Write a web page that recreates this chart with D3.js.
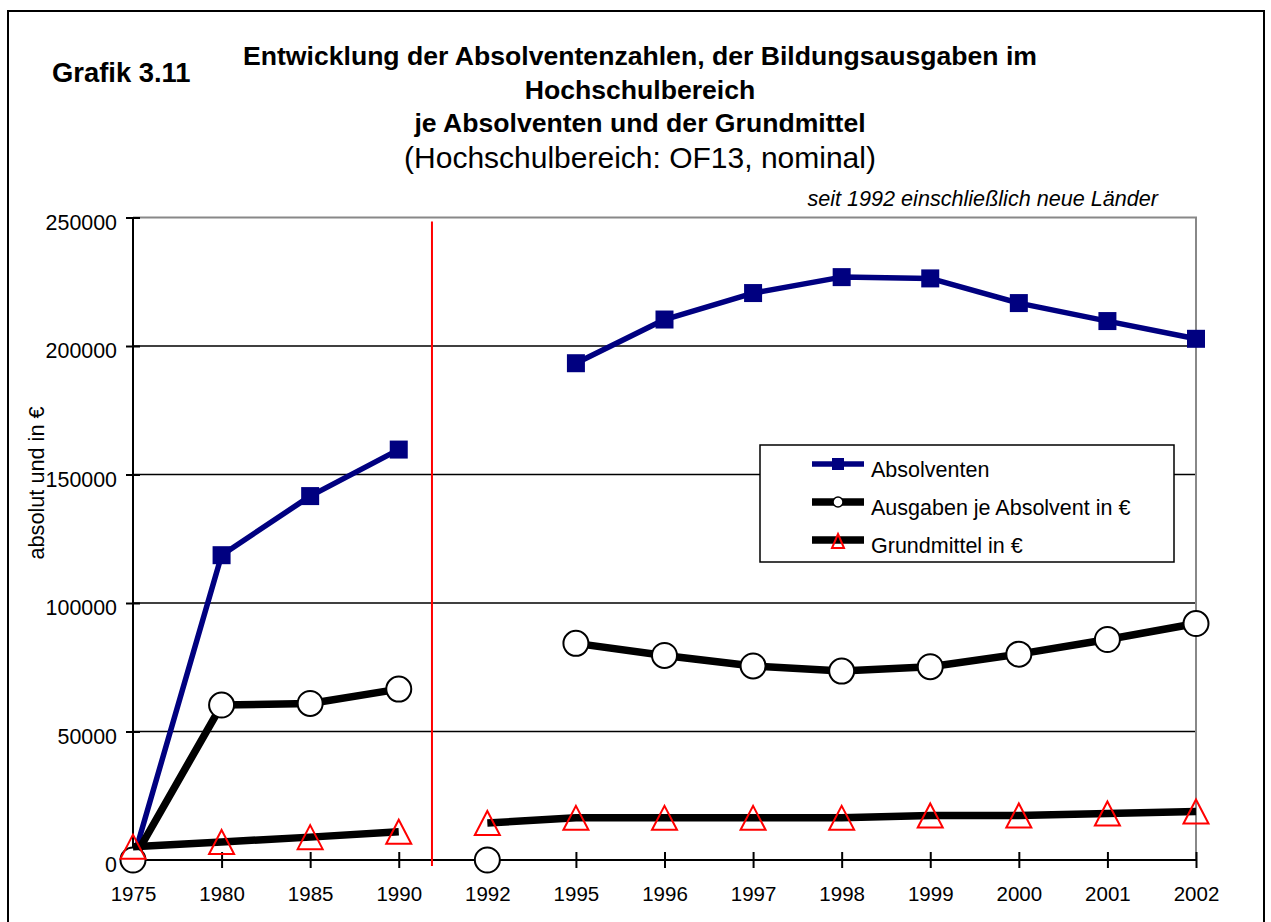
<!DOCTYPE html>
<html>
<head>
<meta charset="utf-8">
<script src="https://cdn.jsdelivr.net/npm/d3@7"></script>
<style>
  body { margin: 0; background: #fff; }
  svg { display: block; font-family: "Liberation Sans", Arial, sans-serif; }
</style>
</head>
<body>
<div id="chart"></div>
<script>
// data
var years = ["1975", "1980", "1985", "1990", "1992", "1995", "1996", "1997", "1998", "1999", "2000", "2001", "2002"];
var absolventen = [0, 118600, 141600, 159700, 0, 193300, 210300, 220600, 226800, 226300, 216700, 209700, 202800];
var ausgaben = [0, 60300, 60900, 66500, 0, 84300, 79600, 75500, 73500, 75200, 80100, 85800, 92000];
var grundmittel = [5200, 7000, 8900, 11000, 14400, 16400, 16400, 16400, 16400, 17300, 17300, 18100, 18900];
var yTicks = [0, 50000, 100000, 150000, 200000, 250000];
// years that get a marker but no connecting line
var absolventenNoLine = ["1992"];
var ausgabenNoLine = ["1992"];
// line is broken between the old and the new territory
var splitYear = "1992";

var W = 1271, H = 922;
var svg = d3.select("#chart").append("svg")
    .attr("width", W)
    .attr("height", H);

// outer frame
svg.append("rect")
    .attr("x", 8).attr("y", 11)
    .attr("width", 1256).attr("height", 930)
    .attr("fill", "none").attr("stroke", "#000").attr("stroke-width", 2);

var x = d3.scalePoint().domain(years).range([133, 1196]);
var y = d3.scaleLinear().domain([0, 250000]).range([860, 217.5]);

// titles
svg.append("text")
    .attr("x", 52).attr("y", 82)
    .attr("font-size", 27.4).attr("font-weight", "bold")
    .text("Grafik 3.11");

var titleLines = [
  {t: "Entwicklung der Absolventenzahlen, der Bildungsausgaben im", y: 65, b: true, s: 26.6},
  {t: "Hochschulbereich", y: 98.5, b: true, s: 26.6},
  {t: "je Absolventen und der Grundmittel", y: 132, b: true, s: 26.6},
  {t: "(Hochschulbereich: OF13, nominal)", y: 168, b: false, s: 30}
];
svg.selectAll("text.title")
    .data(titleLines)
    .enter().append("text")
    .attr("class", "title")
    .attr("x", 640)
    .attr("y", function(d) { return d.y; })
    .attr("text-anchor", "middle")
    .attr("font-size", function(d) { return d.s; })
    .attr("font-weight", function(d) { return d.b ? "bold" : "normal"; })
    .text(function(d) { return d.t; });

svg.append("text")
    .attr("x", 1158).attr("y", 206)
    .attr("text-anchor", "end")
    .attr("font-size", 21.6).attr("font-style", "italic")
    .text("seit 1992 einschließlich neue Länder");

// grid lines
svg.append("g")
    .selectAll("line")
    .data(yTicks.filter(function(d) { return d > 0 && d < 250000; }))
    .enter().append("line")
    .attr("x1", x.range()[0]).attr("x2", x.range()[1])
    .attr("y1", function(d) { return y(d); })
    .attr("y2", function(d) { return y(d); })
    .attr("stroke", "#000").attr("stroke-width", 1.5);

// plot frame top + right (gray)
svg.append("path")
    .attr("d", "M" + x.range()[0] + "," + y(250000) + "H" + x.range()[1] + "V" + y(0))
    .attr("fill", "none").attr("stroke", "#888").attr("stroke-width", 2);

// y axis
var yAxis = d3.axisLeft(y).tickValues(yTicks).tickSize(7).tickFormat(d3.format("d"));
var gy = svg.append("g")
    .attr("transform", "translate(" + x.range()[0] + ",0)")
    .call(yAxis);
gy.select(".domain").attr("stroke", "#000").attr("stroke-width", 2).attr("d", "M0," + y(250000) + "V" + (y(0) + 8));
gy.selectAll(".tick line").attr("x2", 7).attr("x1", -7).attr("stroke-width", 2);
gy.selectAll(".tick text")
    .attr("x", -16).attr("dy", "0.55em")
    .attr("font-size", 21.4).attr("font-family", "Liberation Sans, Arial, sans-serif")
    .attr("fill", "#000");

// x axis
var xAxis = d3.axisBottom(x).tickSize(8);
var gx = svg.append("g")
    .attr("transform", "translate(0," + y(0) + ")")
    .call(xAxis);
gx.select(".domain").attr("stroke", "#000").attr("stroke-width", 2).attr("d", "M" + x.range()[0] + ",0H" + x.range()[1]);
gx.selectAll(".tick line").attr("y1", -8).attr("y2", 8).attr("stroke-width", 2);
gx.selectAll(".tick text")
    .attr("y", 26).attr("dy", "0.71em")
    .attr("font-size", 20.5).attr("font-family", "Liberation Sans, Arial, sans-serif")
    .attr("fill", "#000");

// y axis title
svg.append("text")
    .attr("transform", "translate(44,483) rotate(-90)")
    .attr("text-anchor", "middle")
    .attr("font-size", 21.7)
    .text("absolut und in €");

// red divider between 1990 and 1992
var divX = x("1990") + 0.375 * (x(splitYear) - x("1990"));
svg.append("line")
    .attr("x1", divX).attr("x2", divX)
    .attr("y1", y(250000) + 4).attr("y2", y(0) + 6)
    .attr("stroke", "#ff0000").attr("stroke-width", 2);

function rows(vals, noLine) {
  return years.map(function(yr, i) {
    return {year: yr, v: vals[i], line: noLine.indexOf(yr) < 0};
  });
}
function segments(data) {
  var idx = years.indexOf(splitYear);
  return [data.slice(0, idx), data.slice(idx)];
}

var line = d3.line()
    .defined(function(d) { return d.line && d.v != null; })
    .x(function(d) { return x(d.year); })
    .y(function(d) { return y(d.v); });

var triPath = "M0,-12L12.5,12L-12.5,12Z";

var series = [
  {data: rows(absolventen, absolventenNoLine), color: "#000080", width: 5.5, marker: "square"},
  {data: rows(ausgaben, ausgabenNoLine), color: "#000", width: 7.5, marker: "circle"},
  {data: rows(grundmittel, []), color: "#000", width: 7.5, marker: "triangle"}
];

series.forEach(function(s) {
  var g = svg.append("g");
  segments(s.data).forEach(function(seg) {
    g.append("path")
        .attr("d", line(seg))
        .attr("fill", "none")
        .attr("stroke", s.color)
        .attr("stroke-width", s.width)
        .attr("stroke-linejoin", "round");
  });
  var pts = g.selectAll(".pt")
      .data(s.data.filter(function(d) { return d.v != null; }))
      .enter();
  if (s.marker === "square") {
    pts.append("rect")
        .attr("x", function(d) { return x(d.year) - 9; })
        .attr("y", function(d) { return y(d.v) - 9; })
        .attr("width", 18).attr("height", 18)
        .attr("fill", "#000080");
  } else if (s.marker === "circle") {
    pts.append("circle")
        .attr("cx", function(d) { return x(d.year); })
        .attr("cy", function(d) { return y(d.v); })
        .attr("r", 12.5)
        .attr("fill", "#fff").attr("stroke", "#000").attr("stroke-width", 2);
  } else {
    pts.append("path")
        .attr("d", triPath)
        .attr("transform", function(d) { return "translate(" + x(d.year) + "," + y(d.v) + ")"; })
        .attr("fill", "none").attr("stroke", "#ff0000").attr("stroke-width", 2);
  }
});

// legend
var legendItems = ["Absolventen", "Ausgaben je Absolvent in €", "Grundmittel in €"];
var lg = svg.append("g");
lg.append("rect")
    .attr("x", 760).attr("y", 445)
    .attr("width", 414).attr("height", 117)
    .attr("fill", "#fff").attr("stroke", "#000").attr("stroke-width", 1.5);
legendItems.forEach(function(name, i) {
  var cy = 464 + i * 38;
  var s = series[i];
  lg.append("line")
      .attr("x1", 812).attr("x2", 864)
      .attr("y1", cy).attr("y2", cy)
      .attr("stroke", s.color).attr("stroke-width", s.width);
  if (s.marker === "square") {
    lg.append("rect").attr("x", 832).attr("y", cy - 6).attr("width", 12).attr("height", 12).attr("fill", "#000080");
  } else if (s.marker === "circle") {
    lg.append("circle").attr("cx", 838).attr("cy", cy).attr("r", 5)
        .attr("fill", "#fff").attr("stroke", "#000").attr("stroke-width", 1.5);
  } else {
    lg.append("path").attr("d", "M0,-7L6,7L-6,7Z")
        .attr("transform", "translate(838," + (cy + 1) + ")")
        .attr("fill", "none").attr("stroke", "#ff0000").attr("stroke-width", 2);
  }
  lg.append("text")
      .attr("x", 871).attr("y", cy + 13)
      .attr("font-size", 21.5)
      .text(name);
});
</script>
</body>
</html>
